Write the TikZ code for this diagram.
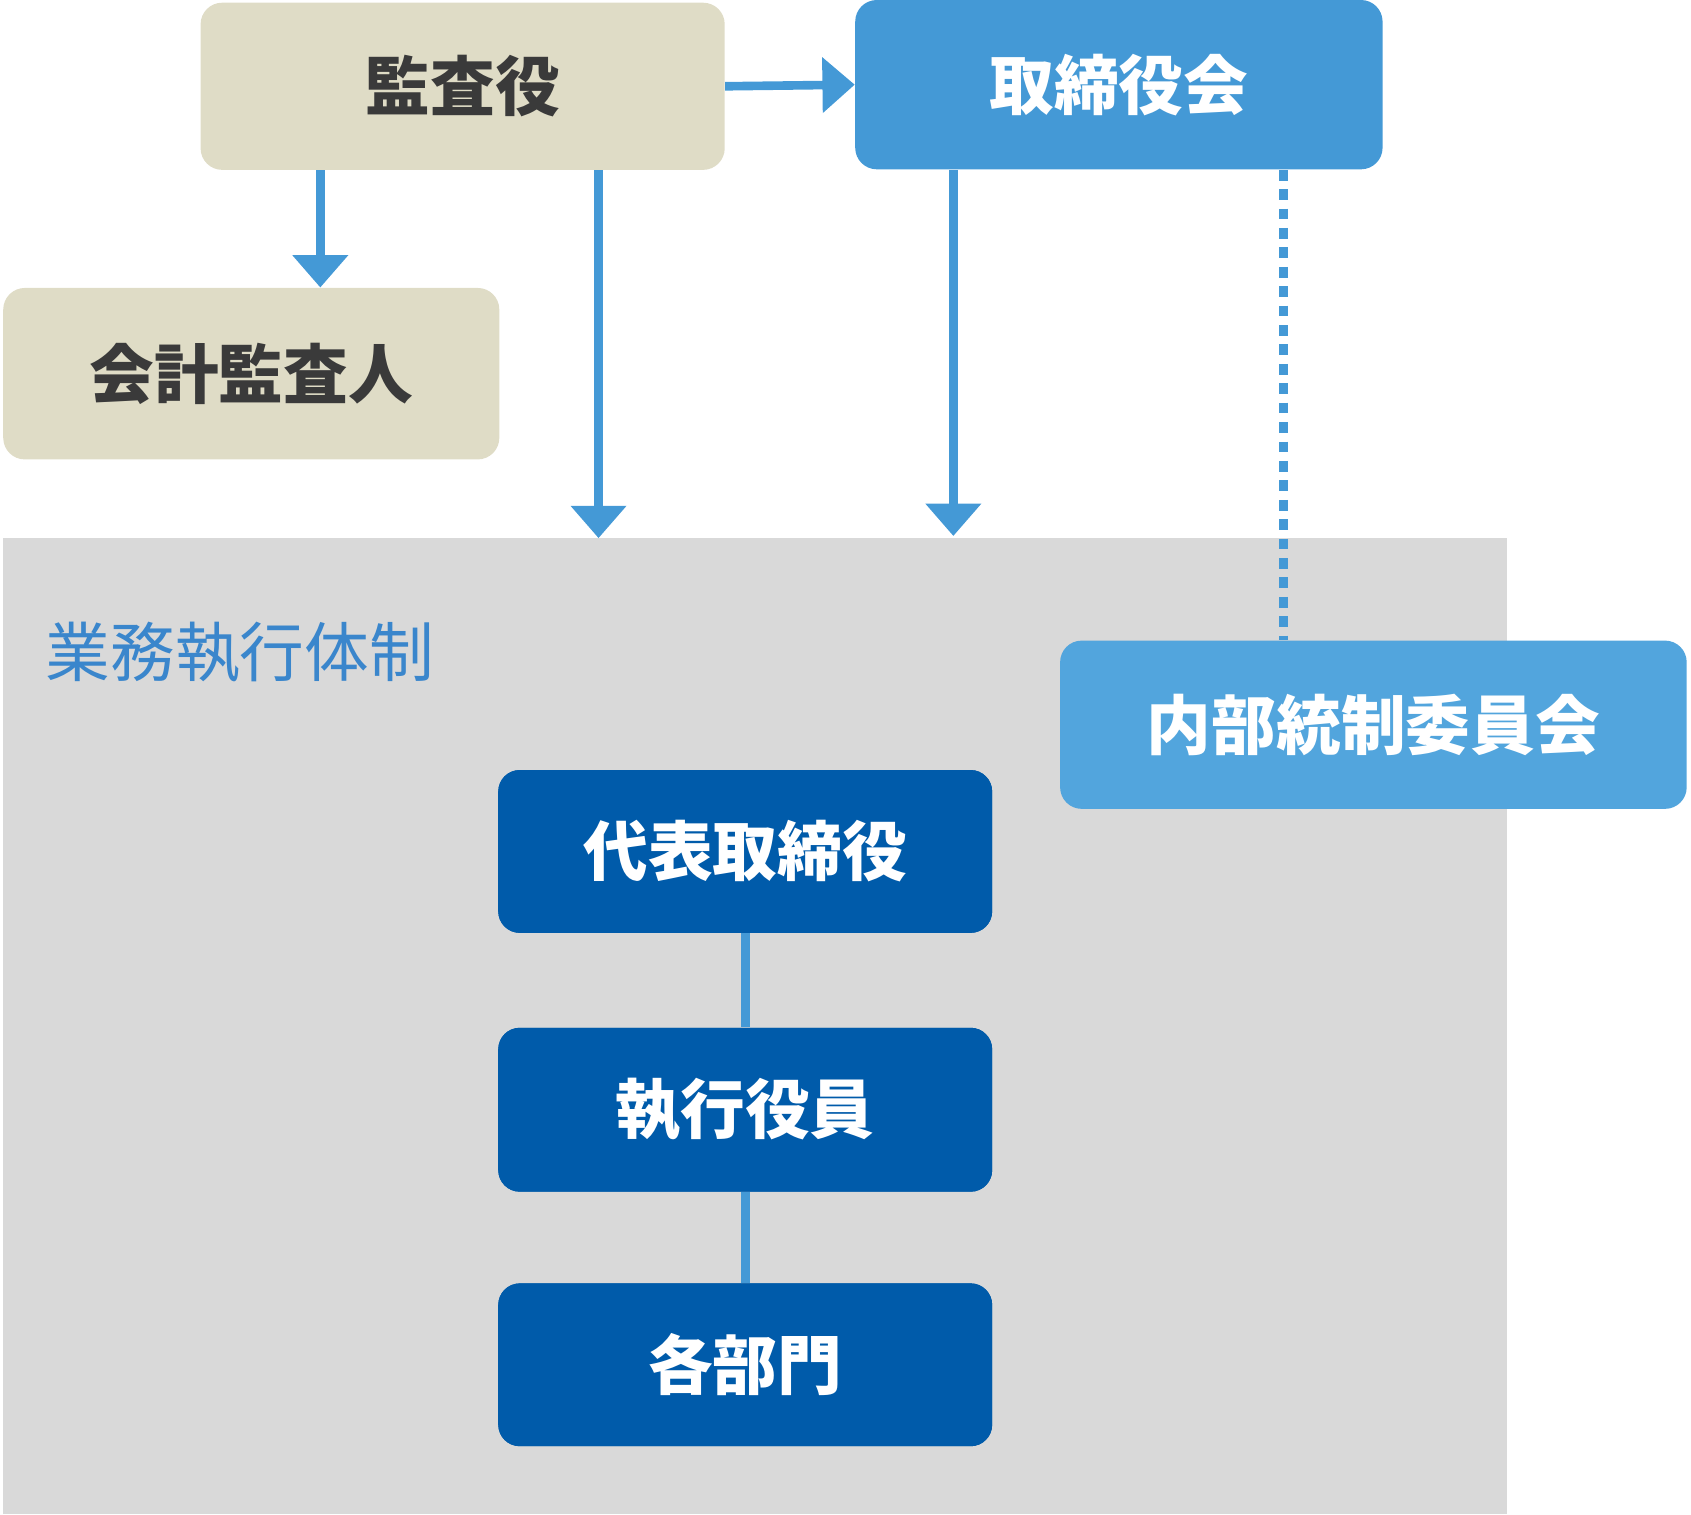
\documentclass[tikz,border=0pt]{standalone}
\usepackage{fontspec}
\newfontfamily\cjk{Noto Sans CJK JP}
\newfontfamily\cjkb{Noto Sans CJK JP}[FakeBold=0]
\usetikzlibrary{arrows.meta}
\definecolor{beige}{HTML}{DFDCC6}
\definecolor{bblue}{HTML}{4499D6}
\definecolor{lblue}{HTML}{52A5DD}
\definecolor{dblue}{HTML}{005BAA}
\definecolor{gbg}{HTML}{D9D9D9}
\definecolor{ttl}{HTML}{3A86CC}
\definecolor{dk}{HTML}{3A3A3A}
\begin{document}
\begin{tikzpicture}[x=0.5pt,y=-0.5pt,
 box/.style={rounded corners=10pt,draw=none,inner sep=0pt,font=\cjk\bfseries\fontsize{30}{30}\selectfont},
 conn/.style={line width=4pt,color=bblue},
 arr/.style={conn,-{Triangle[width=25pt,length=15pt]}}]
\useasboundingbox (0,0) rectangle (1568,1404);
\fill[gbg] (3,499) rectangle (1397,1404);
\node[anchor=west,text=ttl,font=\cjk\fontsize{30}{30}\selectfont,inner sep=0pt] (title) at (42,605) {業務執行体制};
\node[box,fill=beige,text=dk,minimum width=243pt,minimum height=77.5pt] (kansa) at (429,80) {監査役};
\node[box,fill=bblue,text=white,minimum width=244.5pt,minimum height=78.5pt] (tori) at (1037.5,78.5) {取締役会};
\node[box,fill=beige,text=dk,minimum width=230pt,minimum height=79.5pt] (kaikei) at (233,346.5) {会計監査人};
\node[box,fill=lblue,text=white,minimum width=290.5pt,minimum height=78pt] (naibu) at (1273.5,672) {内部統制委員会};
\node[box,fill=dblue,text=white,minimum width=229pt,minimum height=75.5pt] (daihyo) at (691,789.5) {代表取締役};
\node[box,fill=dblue,text=white,minimum width=229pt,minimum height=76pt] (shikko) at (691,1029) {執行役員};
\node[box,fill=dblue,text=white,minimum width=229pt,minimum height=75.5pt] (bumon) at (691,1265.5) {各部門};
\coordinate (g1) at (555,499);
\coordinate (g2) at (884,497);
\draw[arr] (kansa.east) -- (tori.west);
\draw[arr] (kansa.south -| kaikei.south) ++(64,0) -- ([xshift=32pt]kaikei.north);
\draw[arr] (kansa.south -| g1) -- (g1);
\draw[arr] (tori.south -| g2) -- (g2);
\draw[conn,dash pattern=on 5pt off 4pt] (tori.south -| 1190,0) -- (naibu.north -| 1190,0);
\draw[conn] (daihyo) -- (shikko);
\draw[conn] (shikko) -- (bumon);
\node[box,fill=dblue,text=white,minimum width=229pt,minimum height=75.5pt] at (691,789.5) {代表取締役};
\node[box,fill=dblue,text=white,minimum width=229pt,minimum height=76pt] at (691,1029) {執行役員};
\node[box,fill=dblue,text=white,minimum width=229pt,minimum height=75.5pt] at (691,1265.5) {各部門};
\end{tikzpicture}
\end{document}
